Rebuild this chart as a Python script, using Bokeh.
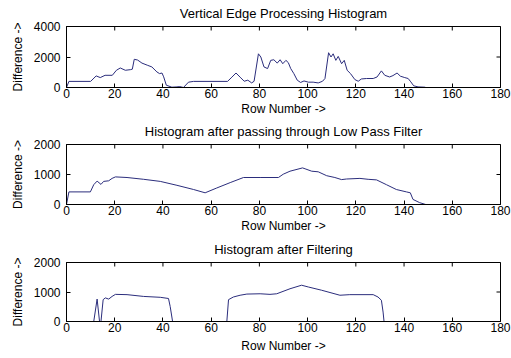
import math
from bokeh.plotting import figure
from bokeh.layouts import column
from bokeh.models import Range1d, FixedTicker
from bokeh.embed import file_html
from bokeh.resources import INLINE

FONT = "Liberation Sans"
LINE = "#2b2d7c"

x_ticks = [0, 20, 40, 60, 80, 100, 120, 140, 160, 180]

# Plot 1: Vertical Edge Processing Histogram
x1 = [0, 1, 10, 12.3, 14, 16, 19, 20.7, 22.3, 24.4, 26.5, 27.3, 28.1, 29.5, 31.3, 33.7,
      35.4, 37.5, 38.6, 39.6, 40.3, 41.4, 43.7, 45.8, 47, 48.5, 50.6, 52.7, 66.8, 68.6,
      70.3, 72, 73.7, 75.2, 76.8, 77.8, 79.6, 80.6, 81.9, 83.4, 84.7, 86, 87.4, 88.6,
      89.7, 91, 92, 93, 94.3, 95.7, 97.1, 98.5, 100.3, 102.3, 104.4, 106.2, 107.2, 108.7,
      109.7, 110.6, 111.7, 112.7, 114.1, 115.2, 116.4, 117.8, 119.6, 121, 122.3, 124.4,
      127.2, 128.8, 130.6, 132, 134, 135.4, 137.1, 138.5, 140.3, 141.7, 142.8, 144, 145.8,
      148.6, 149]
y1 = [0, 400, 400, 760, 650, 800, 800, 1130, 1280, 1130, 1170, 1200, 1850, 1800, 1600, 1450,
      1350, 1020, 910, 950, 700, 150, 20, 40, 60, 0, 350, 400, 400, 680,
      950, 680, 410, 480, 300, 410, 2210, 2000, 1350, 1240, 1780, 1820, 1600, 1820,
      1560, 1780, 1630, 1240, 910, 480, 330, 430, 350, 350, 300, 410, 590, 2280,
      2000, 2210, 1780, 2040, 1560, 1780, 1130, 910, 520, 410, 560, 590,
      590, 690, 1090, 800, 690, 780, 950, 740, 650, 590, 370, 110, 40,
      20, 0]

# Plot 2: after Low Pass Filter
x2 = [0, 1, 9.9, 11.3, 12.7, 14.3, 15.4, 17.5, 18.9, 20.3, 25.1, 32, 38.9, 45.8, 52.7,
      57.5, 62.3, 67.9, 73.4, 80.3, 87.9, 89.9, 92.7, 97.9, 99.3, 101.7, 104.4, 107.9,
      111.3, 114.1, 116.1, 121.7, 125.1, 128.6, 132.7, 136.8, 141, 142.6, 143.7, 146.5,
      148.6, 149]
y2 = [0, 420, 420, 660, 780, 670, 770, 790, 870, 920, 900, 840, 770, 640, 500,
      390, 550, 730, 900, 900, 900, 1010, 1110, 1220, 1180, 1110, 1090, 960,
      900, 830, 850, 870, 840, 820, 660, 500, 420, 390, 170, 60,
      10, 0]

# Plot 3: after Filtering
x3 = [0, 11.3, 12.7, 13.7, 14.3, 15.2, 16.1, 17.5, 18.9, 20.3, 25.1, 32, 38.9, 42.3, 43,
      44, 66.5, 67.2, 69.2, 72, 74.8, 80.3, 84.4, 87.2, 92.7, 97.5, 100.3, 105.8, 113.4,
      117.5, 127.2, 129.2, 130.6, 131.3, 131.7, 149]
y3 = [0, 0, 760, 0, 0, 740, 800, 760, 850, 920, 910, 850, 820, 780, 510,
      0, 0, 740, 830, 890, 930, 940, 920, 940, 1110, 1230, 1170, 1060, 890,
      910, 910, 830, 720, 320, 0, 0]

titles = ["Vertical Edge Processing Histogram",
          "Histogram after passing through Low Pass Filter",
          "Histogram after Filtering"]
y_max = [4000, 2000, 2000]
y_ticks = [[0, 2000, 4000], [0, 1000, 2000], [0, 1000, 2000]]
x_label = "Row Number ->"
y_label = "Difference ->"


def make_fig(title, xs, ys, ymax, yt, height, top, bottom, xlab_standoff):
    p = figure(width=511, height=height, x_range=Range1d(0, 180), y_range=Range1d(0, ymax),
               output_backend="svg", toolbar_location=None,
               min_border_left=66, min_border_right=11,
               min_border_top=top, min_border_bottom=bottom)
    p.background_fill_color = "white"
    p.border_fill_color = "white"
    p.outline_line_color = "black"
    p.outline_line_width = 1
    p.grid.visible = False

    p.title.text = title
    p.title.align = "center"
    p.title.vertical_align = "middle"
    p.title.text_font = FONT
    p.title.text_font_size = "13px"
    p.title.text_font_style = "normal"
    p.title.text_color = "black"
    p.title.standoff = 9

    for ax in p.xaxis:
        ax.ticker = FixedTicker(ticks=x_ticks)
        ax.axis_label = x_label
    for ax in p.yaxis:
        ax.ticker = FixedTicker(ticks=yt)
        ax.axis_label = y_label
    for ax in list(p.xaxis) + list(p.yaxis):
        ax.axis_line_color = "black"
        ax.major_tick_line_color = "black"
        ax.major_tick_in = 4
        ax.major_tick_out = 0
        ax.minor_tick_line_color = None
        ax.major_label_text_font = FONT
        ax.major_label_text_font_size = "12px"
        ax.major_label_text_color = "black"
        ax.axis_label_text_font = FONT
        ax.axis_label_text_font_size = "12px"
        ax.axis_label_text_font_style = "normal"
        ax.axis_label_text_color = "black"
    p.xaxis.major_label_standoff = 1
    p.xaxis.axis_label_standoff = xlab_standoff
    p.yaxis.major_label_standoff = 6
    p.yaxis.axis_label_standoff = 6

    # inward tick marks on the top and right edges of the box (MATLAB style)
    p.scatter(x=x_ticks, y=[ymax] * len(x_ticks), marker="dash", angle=math.pi / 2,
              size=8, line_color="black", line_width=1)
    p.scatter(x=[180] * len(yt), y=yt, marker="dash", size=8,
              line_color="black", line_width=1)

    p.line(xs, ys, line_color=LINE, line_width=1)
    return p


p1 = make_fig(titles[0], x1, y1, y_max[0], y_ticks[0], 118, 26, 30, 1)
p2 = make_fig(titles[1], x2, y2, y_max[1], y_ticks[1], 117, 25, 30, 1)
p3 = make_fig(titles[2], x3, y3, y_max[2], y_ticks[2], 123, 27, 37, 4)

layout = column(p1, p2, p3, spacing=0)

with open("out.html", "w") as f:
    f.write(file_html(layout, INLINE))
